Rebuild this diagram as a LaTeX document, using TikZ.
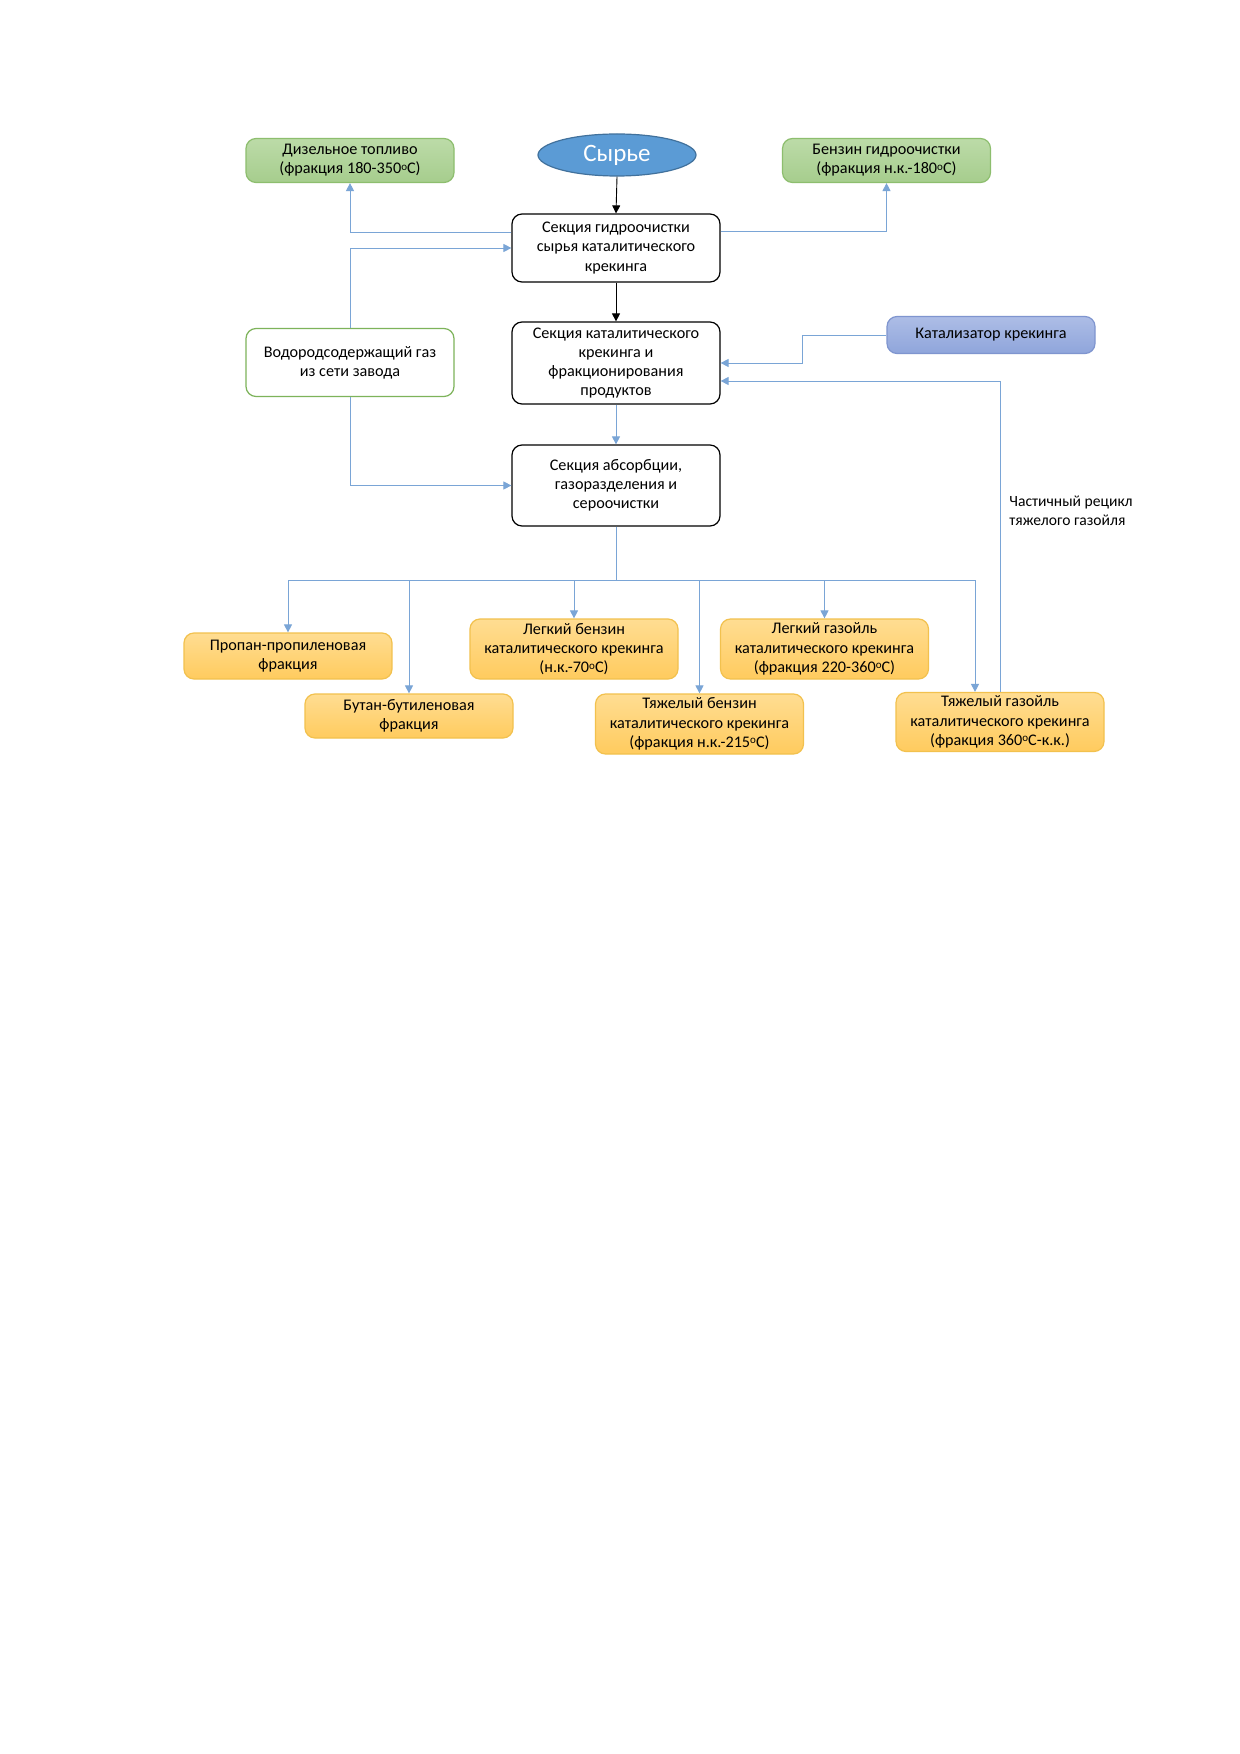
\documentclass[tikz,border=0pt]{standalone}
\usepackage{fontspec}
\setmainfont{Carlito}
\usetikzlibrary{shapes.geometric,arrows.meta,positioning}
\definecolor{lnblue}{HTML}{7AA5D6}
\definecolor{grfillA}{HTML}{BCDBA8}
\definecolor{grfillB}{HTML}{A6CD8D}
\definecolor{grdraw}{HTML}{8DBE6E}
\definecolor{grline}{HTML}{7DB35A}
\definecolor{blfillA}{HTML}{ADBDE6}
\definecolor{blfillB}{HTML}{8FA5DB}
\definecolor{bldraw}{HTML}{7F95CF}
\definecolor{orfillA}{HTML}{FFDD92}
\definecolor{orfillB}{HTML}{FFCB5E}
\definecolor{ordraw}{HTML}{F2C14E}
\definecolor{elfill}{HTML}{5B9BD5}
\definecolor{eldraw}{HTML}{41719C}
\newcommand{\dgr}{\raisebox{0.45ex}{\fontsize{5.5}{6}\selectfont o}}
\tikzset{
  box/.style={rectangle, rounded corners=5pt, minimum width=104pt, inner sep=0pt, align=center,
    font=\fontsize{8.1}{9.6}\selectfont, line width=0.6pt},
  blackbox/.style={box, draw=black, fill=white},
  greenbox/.style={box, draw=grdraw, top color=grfillA, bottom color=grfillB},
  greenline/.style={box, draw=grline, fill=white},
  bluebox/.style={box, draw=bldraw, top color=blfillA, bottom color=blfillB},
  orbox/.style={box, draw=ordraw, top color=orfillA, bottom color=orfillB},
  flow/.style={draw=lnblue, line width=0.45pt, -{Triangle[length=4pt,width=4pt]}},
  plainflow/.style={draw=lnblue, line width=0.45pt},
  blkflow/.style={draw=black, line width=0.45pt, -{Triangle[length=4pt,width=4pt]}},
}
\begin{document}
\begin{tikzpicture}[x=0.5pt,y=-0.5pt]
\useasboundingbox[fill=white] (0,0) rectangle (1240,1754);

\node[ellipse, draw=eldraw, fill=elfill, line width=0.6pt, minimum width=79pt, minimum height=21pt, inner sep=0pt,
  text=white, font=\fontsize{12.5}{14}\selectfont] (syr) at (617,155) {Сырье};

\node[greenbox, minimum height=22pt] (diesel) at (350,160.5) {Дизельное топливо\\(фракция 180-350\dgr С)};
\node[greenbox, minimum height=22pt] (benz) at (886.5,160.5) {Бензин гидроочистки\\(фракция н.к.-180\dgr С)};

\node[blackbox, minimum height=34pt] (hydro) at (616,248) {Секция гидроочистки\\сырья каталитического\\крекинга};
\node[greenline, minimum height=34pt] (h2) at (350,362.5) {Водородсодержащий газ\\из сети завода};
\node[blackbox, minimum height=41pt] (cat) at (616,363) {Секция каталитического\\крекинга и\\фракционирования\\продуктов};
\node[bluebox, minimum height=18.5pt] (catal) at (991,335) {Катализатор крекинга};
\node[blackbox, minimum height=40.5pt] (abs) at (616,485.5) {Секция абсорбции,\\газоразделения и\\сероочистки};

\node[orbox, minimum height=23pt] (prop) at (288,656) {Пропан-пропиленовая\\фракция};
\node[orbox, minimum height=22pt] (but) at (409,716) {Бутан-бутиленовая\\фракция};
\node[orbox, minimum height=30pt] (lb) at (574,649) {Легкий бензин\\каталитического крекинга\\(н.к.-70\dgr С)};
\node[orbox, minimum height=30pt] (hb) at (699.5,724) {Тяжелый бензин\\каталитического крекинга\\(фракция н.к.-215\dgr С)};
\node[orbox, minimum height=30pt] (lg) at (824.5,649) {Легкий газойль\\каталитического крекинга\\(фракция 220-360\dgr С)};
\node[orbox, minimum height=29.5pt] (hg) at (1000,722) {Тяжелый газойль\\каталитического крекинга\\(фракция 360\dgr С-к.к.)};

\node[anchor=west, align=left, inner sep=0pt, font=\fontsize{7.8}{9.6}\selectfont] (lbl) at (1009,511) {Частичный рецикл\\тяжелого газойля};

% connectors
\draw[blkflow] (syr.south) -- (hydro.north);
\draw[blkflow] (hydro.south) -- (cat.north);
\draw[flow] ([yshift=8pt]hydro.west) -| (diesel.south);
\draw[flow] ([yshift=8.5pt]hydro.east) -| (benz.south);
\draw[flow] (h2.north) |- (hydro.west);
\draw[flow] (h2.south) |- (abs.west);
\draw[flow] (cat.south) -- (abs.north);
\draw[flow] (catal.west) -- ++(-84,0) |- (cat.east);
\draw[flow] (hg.north) |- ([yshift=-9pt]cat.east);

\coordinate (bj) at (616,580);
\draw[plainflow] (abs.south) -- (bj);
\draw[flow] (bj) -| (prop.north);
\draw[flow] (bj) -| ([xshift=-12.5pt]hg.north);
\draw[flow] (but.north |- bj) -- (but.north);
\draw[flow] (lb.north |- bj) -- (lb.north);
\draw[flow] (hb.north |- bj) -- (hb.north);
\draw[flow] (lg.north |- bj) -- (lg.north);
\end{tikzpicture}
\end{document}
